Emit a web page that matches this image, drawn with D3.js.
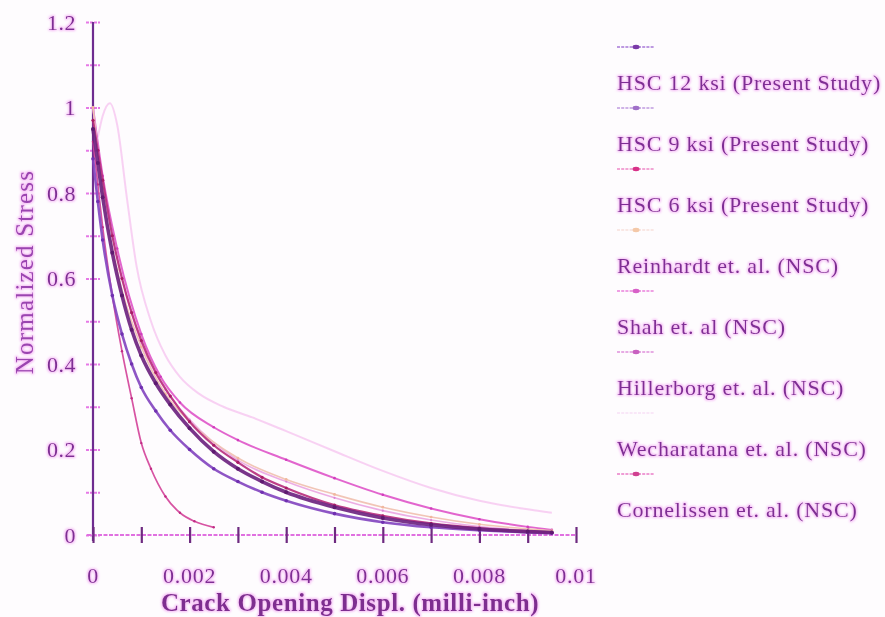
<!DOCTYPE html>
<html><head><meta charset="utf-8">
<script src="https://cdn.jsdelivr.net/npm/d3@7"></script>
<style>
html,body{margin:0;padding:0;background:#fefcfe;}
svg{display:block;}
text{font-family:"Liberation Serif","Times New Roman",serif;}
</style></head>
<body>
<svg id="chart" width="885" height="617"></svg>
<script>
// ---------- data (x in inches of crack opening, y normalized stress) ----------
const seriesNames = [
  "HSC 12 ksi (Present Study)",
  "HSC 9 ksi (Present Study)",
  "HSC 6 ksi (Present Study)",
  "Reinhardt et. al. (NSC)",
  "Shah et. al (NSC)",
  "Hillerborg et. al. (NSC)",
  "Wecharatana et. al. (NSC)",
  "Cornelissen et. al. (NSC)"
];
const xHSC12 = [0, 0.0001, 0.0002, 0.0004, 0.0006, 0.0008, 0.001, 0.0013, 0.0016, 0.002, 0.0025, 0.003, 0.0035, 0.004, 0.005, 0.006, 0.007, 0.008, 0.009, 0.0095];
const yHSC12 = [0.95, 0.87, 0.79, 0.66, 0.56, 0.48, 0.42, 0.355, 0.305, 0.25, 0.195, 0.155, 0.125, 0.10, 0.065, 0.04, 0.024, 0.014, 0.008, 0.006];
const xHSC9 = [0, 0.0001, 0.0002, 0.0004, 0.0006, 0.0008, 0.001, 0.0013, 0.0016, 0.002, 0.0025, 0.003, 0.0035, 0.004, 0.005, 0.006, 0.007, 0.008, 0.009, 0.0095];
const yHSC9 = [0.88, 0.78, 0.69, 0.56, 0.47, 0.40, 0.345, 0.29, 0.245, 0.20, 0.155, 0.125, 0.10, 0.08, 0.05, 0.03, 0.018, 0.011, 0.006, 0.004];
const xHSC6 = [0, 0.0001, 0.0002, 0.0004, 0.0006, 0.0008, 0.001, 0.0013, 0.0016, 0.002, 0.0025, 0.003, 0.0035, 0.004, 0.005, 0.006, 0.007, 0.008, 0.009, 0.0095];
const yHSC6 = [0.97, 0.90, 0.83, 0.70, 0.60, 0.52, 0.455, 0.38, 0.325, 0.265, 0.21, 0.17, 0.135, 0.11, 0.07, 0.045, 0.027, 0.016, 0.009, 0.006];
const xReinhardt = [0, 0.0002, 0.0005, 0.001, 0.0015, 0.002, 0.003, 0.004, 0.005, 0.006, 0.007, 0.008, 0.0095];
const yReinhardt = [1.0, 0.80, 0.62, 0.44, 0.33, 0.265, 0.18, 0.13, 0.095, 0.065, 0.042, 0.025, 0.01];
const xShah = [0, 0.0002, 0.0005, 0.001, 0.0014, 0.0018, 0.0025, 0.003, 0.004, 0.005, 0.006, 0.007, 0.008, 0.009, 0.0095];
const yShah = [1.0, 0.84, 0.67, 0.47, 0.37, 0.31, 0.252, 0.222, 0.176, 0.133, 0.094, 0.062, 0.037, 0.019, 0.012];
const xHillerborg = [0, 0.0002, 0.0005, 0.001, 0.0015, 0.002, 0.003, 0.004, 0.005, 0.006, 0.007, 0.008, 0.009, 0.0095];
const yHillerborg = [1.0, 0.82, 0.65, 0.45, 0.34, 0.27, 0.175, 0.125, 0.087, 0.057, 0.035, 0.02, 0.011, 0.008];
const xWecharatana = [0.0001, 0.0002, 0.00035, 0.0005, 0.0007, 0.0009, 0.0012, 0.0015, 0.0018, 0.0022, 0.0027, 0.0033, 0.004, 0.005, 0.006, 0.007, 0.008, 0.009, 0.0095];
const yWecharatana = [0.93, 0.98, 1.01, 0.96, 0.79, 0.63, 0.50, 0.42, 0.37, 0.33, 0.30, 0.275, 0.243, 0.196, 0.15, 0.11, 0.08, 0.06, 0.052];
const xCornelissen = [0, 0.0001, 0.0002, 0.0004, 0.0006, 0.0008, 0.001, 0.0012, 0.0015, 0.0018, 0.0021, 0.0025];
const yCornelissen = [0.92, 0.82, 0.72, 0.56, 0.43, 0.32, 0.215, 0.155, 0.09, 0.052, 0.032, 0.018];
const xTicks = [0, 0.002, 0.004, 0.006, 0.008, 0.01];
const yTicks = [0, 0.2, 0.4, 0.6, 0.8, 1, 1.2];
const xTickLabels = ["0", "0.002", "0.004", "0.006", "0.008", "0.01"];
const yTickLabels = ["0", "0.2", "0.4", "0.6", "0.8", "1", "1.2"];

const seriesX = [xHSC12, xHSC9, xHSC6, xReinhardt, xShah, xHillerborg, xWecharatana, xCornelissen];
const seriesY = [yHSC12, yHSC9, yHSC6, yReinhardt, yShah, yHillerborg, yWecharatana, yCornelissen];

// ---------- styles ----------
const styles = [
  {stroke:"#6e2480", width:3.6, marker:"#5e1a70", r:2.0},
  {stroke:"#8446c0", width:2.6, marker:"#7030b0", r:1.8},
  {stroke:"#b8307e", width:2.2, marker:"#a81c66", r:1.6},
  {stroke:"#f0c0b0", width:1.6, marker:"#f0b89e", r:1.4},
  {stroke:"#e058ca", width:2.0, marker:"#d03cbc", r:1.3},
  {stroke:"#eaa6e2", width:1.6, marker:"#dc84d4", r:1.1},
  {stroke:"#f7cdf2", width:2.0, marker:null, r:0},
  {stroke:"#d4449a", width:1.7, marker:"#c02c84", r:1.2}
];
const legendLine = [
  {stroke:"#a878d8", marker:"#7a3aa8"},
  {stroke:"#c09ae0", marker:"#a070c8"},
  {stroke:"#ee88c8", marker:"#d83088"},
  {stroke:"#f8e0dc", marker:"#f4c8a8"},
  {stroke:"#ea80dc", marker:"#d860c8"},
  {stroke:"#e090dc", marker:"#c860c0"},
  {stroke:"#f8e0f6", marker:null},
  {stroke:"#ea7cc8", marker:"#d04090"}
];

const svg = d3.select("#chart");
const defs = svg.append("defs");
const f = defs.append("filter").attr("id","glow").attr("x","-10%").attr("y","-30%").attr("width","120%").attr("height","160%");
f.append("feMorphology").attr("in","SourceAlpha").attr("operator","dilate").attr("radius",0.8).attr("result","d");
f.append("feGaussianBlur").attr("in","d").attr("stdDeviation",1.2).attr("result","b");
f.append("feFlood").attr("flood-color","#f090f0").attr("flood-opacity",0.6);
f.append("feComposite").attr("in2","b").attr("operator","in").attr("result","g");
const m = f.append("feMerge");
m.append("feMergeNode").attr("in","g");
m.append("feMergeNode").attr("in","SourceGraphic");

const x = d3.scaleLinear().domain([0, 0.01]).range([93, 576]);
const y = d3.scaleLinear().domain([0, 1.2]).range([535, 22]);

const textColor = "#7e2e94";

// ---------- axes ----------
const yMinor = d3.range(0, 13).map(i => i / 10);
const yAxis = d3.axisLeft(y).tickValues(yMinor).tickSize(0).tickFormat("");
const gy = svg.append("g").attr("transform","translate(93,0)").call(yAxis);
gy.select(".domain").remove();
gy.selectAll(".tick").append("line").attr("x1",-7).attr("x2",7).attr("stroke","#e678e6").attr("stroke-width",2.2).attr("stroke-dasharray","3,1");
svg.append("line").attr("x1",x(0)).attr("x2",x(0)).attr("y1",y(1.2)).attr("y2",y(0)+6)
  .attr("stroke","#6e2c90").attr("stroke-width",2.2);
svg.append("g").selectAll("text").data(yTicks).join("text")
  .attr("x",76).attr("y",d=>y(d)).attr("dy","0.36em").attr("text-anchor","end")
  .attr("font-size",22).attr("letter-spacing",0.5).attr("fill",textColor).attr("filter","url(#glow)")
  .text((d,i)=>yTickLabels[i]);

const xMinor = d3.range(0, 11).map(i => i / 1000);
svg.append("line").attr("x1",x(0)-6).attr("x2",x(0.01)).attr("y1",y(0)).attr("y2",y(0))
  .attr("stroke","#e070e0").attr("stroke-width",2).attr("stroke-dasharray","4,1.5");
const xAxis = d3.axisBottom(x).tickValues(xMinor).tickSize(0).tickFormat("");
const gx = svg.append("g").attr("transform",`translate(0,${y(0)})`).call(xAxis);
gx.select(".domain").remove();
gx.selectAll(".tick").append("line").attr("y1",-8).attr("y2",8).attr("stroke","#6e2a80").attr("stroke-width",2.2);
svg.append("g").selectAll("text").data(xTicks).join("text")
  .attr("x",d=>x(d)).attr("y",583).attr("text-anchor","middle")
  .attr("font-size",22).attr("letter-spacing",0.7).attr("fill",textColor).attr("filter","url(#glow)")
  .text((d,i)=>xTickLabels[i]);

// titles
svg.append("text").attr("x",350).attr("y",611).attr("text-anchor","middle")
  .attr("font-size",25).attr("letter-spacing",0.6).attr("font-weight","bold").attr("fill","#7e2e90").attr("filter","url(#glow)")
  .text("Crack Opening Displ. (milli-inch)");
svg.append("text").attr("transform","translate(33,272) rotate(-90)").attr("text-anchor","middle")
  .attr("font-size",25).attr("letter-spacing",1.2).attr("fill","#9a44b0").attr("filter","url(#glow)")
  .text("Normalized Stress");

// ---------- curves ----------
const line = d3.line().x(d=>x(d[0])).y(d=>y(d[1])).curve(d3.curveMonotoneX);
const drawOrder = [6, 4, 5, 3, 7, 1, 2, 0];
const gc = svg.append("g");
drawOrder.forEach(i => {
  const pts = seriesX[i].map((xv, k) => [xv, seriesY[i][k]]);
  const st = styles[i];
  gc.append("path").datum(pts).attr("d", line).attr("fill","none")
    .attr("stroke", st.stroke).attr("stroke-width", st.width).attr("stroke-linejoin","round").attr("opacity",0.92);
  if (st.marker) {
    gc.append("g").selectAll("circle").data(pts).join("circle")
      .attr("cx",d=>x(d[0])).attr("cy",d=>y(d[1])).attr("r",st.r).attr("fill",st.marker);
  }
});

// ---------- legend ----------
const lg = svg.append("g");
seriesNames.forEach((name, i) => {
  const yl = 47 + i * 61;
  const ls = legendLine[i];
  lg.append("line").attr("x1",617).attr("x2",654).attr("y1",yl).attr("y2",yl)
    .attr("stroke", ls.stroke).attr("stroke-width",1.6).attr("stroke-dasharray","3,1.2");
  if (ls.marker) lg.append("ellipse").attr("cx",636).attr("cy",yl).attr("rx",3.5).attr("ry",2.2).attr("fill",ls.marker);
  lg.append("text").attr("x",617).attr("y",yl+43).attr("font-size",22).attr("letter-spacing",0.8).attr("fill",textColor)
    .attr("filter","url(#glow)").text(name);
});
</script>
</body></html>
